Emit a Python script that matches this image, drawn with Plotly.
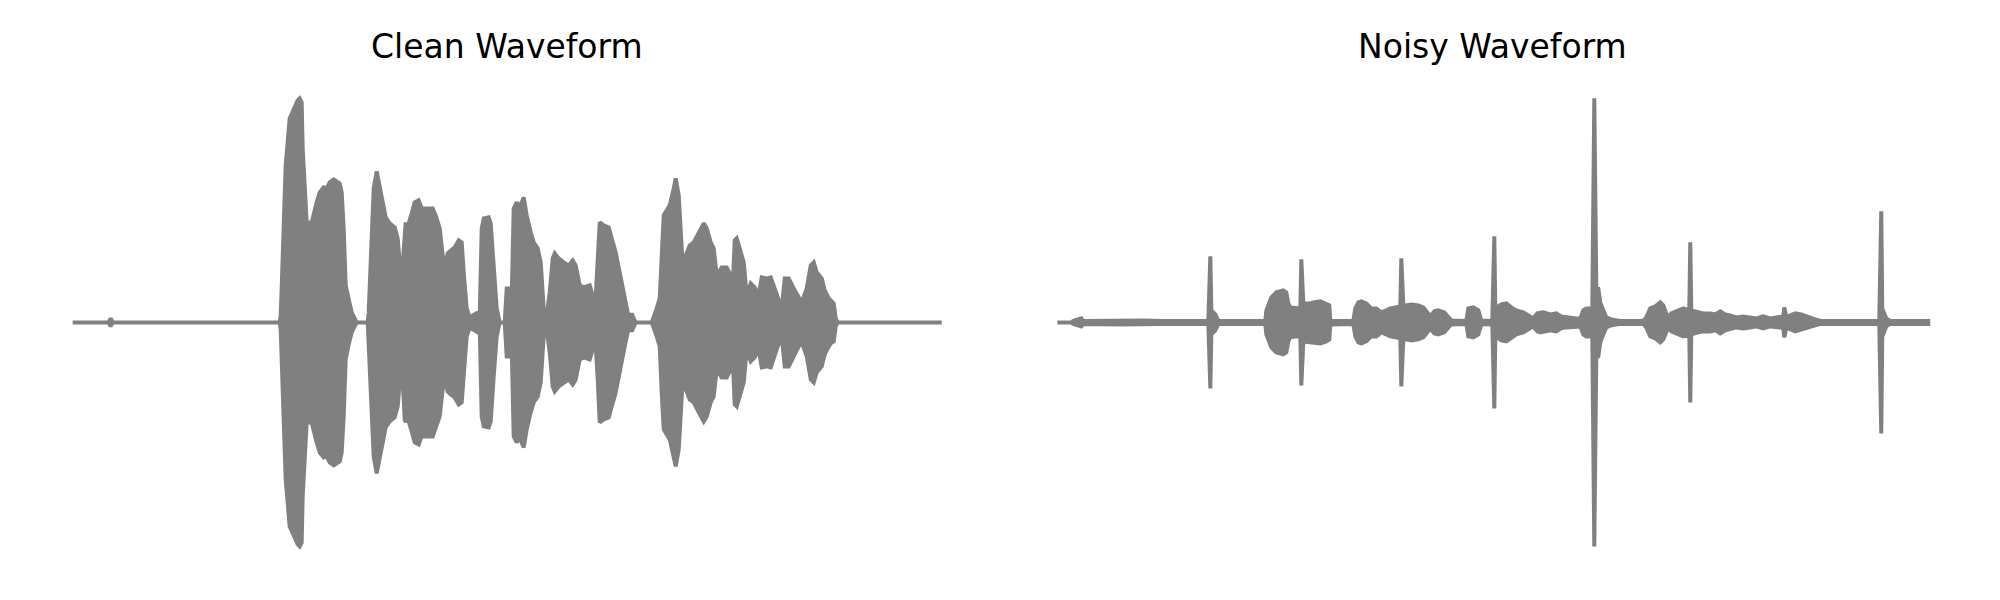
import plotly.graph_objects as go

# Envelope of each waveform.
# Frames are envelope hops of HOP_S seconds; peak is the absolute amplitude (arbitrary linear units).
HOP_S = 0.004

clean_frames = [0, 36, 38, 40, 207, 208, 209, 211, 213, 217, 219, 221, 223, 225, 227, 229, 230, 232, 234,
                239, 241, 244, 247, 251, 254, 257, 261, 264, 267, 269, 271, 273, 276, 279, 284, 295, 296,
                297, 299, 301, 304, 307, 310, 313, 317, 322, 325, 327, 330, 332, 333, 334, 336, 339, 342,
                346, 349, 354, 360, 363, 367, 370, 372, 375, 378, 382, 386, 389, 391, 394, 397, 401, 405,
                407, 409, 411, 416, 418, 421, 424, 427, 432, 434, 437, 439, 441, 444, 447, 451, 454, 458,
                461, 465, 468, 471, 474, 477, 480, 482, 486, 491, 496, 500, 503, 507, 511, 517, 520, 522,
                525, 527, 531, 536, 539, 543, 547, 552, 555, 557, 559, 561, 563, 579, 581, 584, 587, 589,
                591, 594, 597, 601, 603, 606, 608, 611, 613, 617, 621, 626, 631, 634, 638, 641, 644, 649,
                654, 658, 660, 662, 664, 667, 671, 674, 678, 682, 686, 689, 694, 698, 701, 705, 709, 712,
                716, 721, 726, 729, 734, 738, 741, 744, 749, 752, 756, 759, 761, 763, 765, 869]
clean_peak = [0, 0, 4, 0, 0, 7, 34, 87, 157, 204, 209, 212, 217, 222, 224, 220, 174, 134, 100,
              100, 109, 120, 130, 135, 134, 140, 143, 141, 139, 130, 94, 37, 22, 10, 0, 0, 10,
              40, 90, 134, 151, 137, 120, 105, 99, 95, 84, 60, 58, 97, 100, 84, 99, 109, 120,
              122, 114, 114, 114, 107, 94, 67, 55, 69, 72, 75, 82, 80, 50, 14, 5, 7, 10,
              5, 94, 104, 105, 99, 54, 14, 0, 0, 34, 34, 24, 114, 120, 115, 125, 107, 90,
              80, 74, 60, 14, 7, 30, 64, 69, 64, 60, 57, 62, 57, 37, 35, 37, 27, 7,
              57, 100, 97, 95, 84, 70, 50, 24, 10, 4, 9, 4, 0, 0, 7, 14, 24, 70,
              107, 112, 117, 134, 144, 127, 87, 40, 67, 77, 80, 90, 99, 94, 80, 74, 47, 55,
              55, 47, 37, 82, 84, 74, 60, 27, 39, 35, 27, 45, 44, 45, 37, 24, 14, 44,
              44, 34, 24, 20, 34, 57, 60, 50, 44, 32, 24, 20, 19, 4, 0, 0]

noisy_frames = [0, 14, 16, 24, 26, 63, 87, 103, 151, 153, 154, 158, 161, 208, 209, 211, 214, 219, 226,
                229, 231, 233, 238, 243, 244, 246, 253, 256, 263, 269, 272, 273, 274, 296, 298, 301, 304,
                309, 314, 319, 324, 329, 333, 338, 343, 344, 346, 348, 354, 361, 366, 370, 373, 377, 381,
                387, 391, 394, 409, 411, 416, 421, 424, 435, 437, 438, 444, 449, 454, 459, 466, 471, 476,
                480, 483, 486, 493, 499, 504, 509, 519, 523, 526, 529, 535, 537, 539, 541, 543, 546, 549,
                554, 563, 586, 589, 593, 598, 603, 606, 609, 611, 614, 619, 626, 632, 633, 634, 641, 646,
                653, 658, 663, 668, 673, 679, 686, 693, 699, 706, 713, 719, 723, 726, 727, 729, 731, 738,
                744, 751, 758, 763, 822, 824, 825, 829, 833, 871]
noisy_peak = [0, 0, 1.5, 4, 1.5, 2, 2, 1.5, 1.5, 66, 12, 8, 1.5, 1.5, 12, 17, 25, 30, 32,
              30, 19, 15, 14, 14, 63, 19, 19, 20, 21, 19, 17, 2, 1.5, 1.5, 14, 20, 21,
              19, 14, 14, 10, 12, 14, 15, 16, 64, 17, 17, 18, 17, 15, 10, 6, 11, 12,
              10, 5, 2, 1.5, 14, 15, 12, 2, 1.5, 86, 14, 18, 19, 15, 12, 10, 7, 4,
              9, 10, 10, 8, 9, 6, 5, 4, 4, 12, 14, 14, 224, 35, 34, 20, 12, 5,
              3, 1.5, 1.5, 5, 14, 16, 20, 17, 9, 5, 9, 11, 14, 12, 80, 12, 10, 9,
              9, 8, 11, 8, 7, 5, 6, 5, 4, 6, 4, 5, 5, 6, 15, 6, 6, 9,
              8, 5, 3, 1.5, 1.5, 111, 14, 4, 1.5, 1.5]

titles = ["Clean Waveform", "Noisy Waveform"]
wave_color = "#808080"


def envelope_outline(frames, peak):
    t = [f * HOP_S for f in frames]
    xs = t + t[::-1]
    ys = list(peak) + [-p for p in peak[::-1]]
    return xs, ys


def auto_range(vals, margin=0.05):
    lo, hi = min(vals), max(vals)
    span = hi - lo
    return [lo - margin * span, hi + margin * span]


fig = go.Figure()
series = [(clean_frames, clean_peak), (noisy_frames, noisy_peak)]
for i, (fr, pk) in enumerate(series):
    xs, ys = envelope_outline(fr, pk)
    fig.add_trace(go.Scatter(
        x=xs, y=ys, mode="lines", fill="toself", fillcolor=wave_color,
        line=dict(color=wave_color, width=4),
        xaxis="x" if i == 0 else "x2", yaxis="y" if i == 0 else "y2",
        hoverinfo="skip", showlegend=False,
    ))

# the page body adds an 8px offset, so the domains are set relative to it
x_domains = [[0.0106, 0.4886], [0.5029, 0.9819]]
y_domain = [0.0653, 0.8867]

layout_axes = {}
for i, (fr, pk) in enumerate(series):
    t = [f * HOP_S for f in fr]
    xr = auto_range(t)
    yr = auto_range(list(pk) + [-p for p in pk])
    sfx = "" if i == 0 else "2"
    layout_axes["xaxis" + sfx] = dict(domain=x_domains[i], range=xr, visible=False,
                                      anchor="y" + sfx, fixedrange=True)
    layout_axes["yaxis" + sfx] = dict(domain=y_domain, range=yr, visible=False,
                                      anchor="x" + sfx, fixedrange=True)

annotations = []
for i, title in enumerate(titles):
    d = x_domains[i]
    annotations.append(dict(
        text=title, x=(d[0] + d[1]) / 2, y=1 - 38 / 600, xref="paper", yref="paper",
        xanchor="center", yanchor="middle", showarrow=False,
        font=dict(family="DejaVu Sans", size=33, color="black"),
    ))

fig.update_layout(
    width=2000, height=600,
    margin=dict(l=0, r=0, t=0, b=0),
    paper_bgcolor="white", plot_bgcolor="white",
    annotations=annotations,
    showlegend=False,
    **layout_axes,
)

fig.write_html("out.html")
